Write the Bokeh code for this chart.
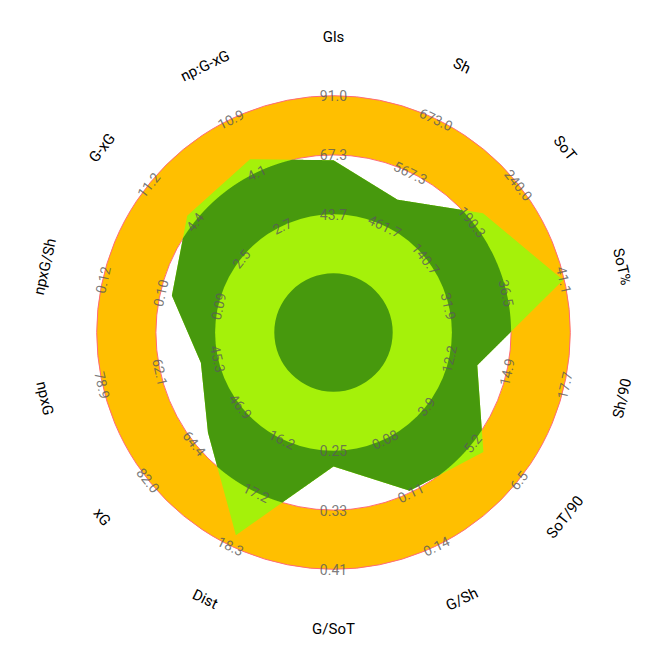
import numpy as np
from bokeh.plotting import figure
from bokeh.models import Range1d, ColumnDataSource
from bokeh.core.properties import value
from bokeh.embed import file_html
from bokeh.resources import INLINE

# ---------------- data ----------------
params = ["Gls", "Sh", "SoT", "SoT%", "Sh/90", "SoT/90", "G/Sh", "G/SoT",
          "Dist", "xG", "npxG", "npxG/Sh", "G-xG", "np:G-xG"]
low = [20.05, 356.05, 91.05, 27.3, 9.45, 2.6, 0.05, 0.17,
       15.15, 29.35, 28.5, 0.075, -9.35, -9.5]
high = [91.0, 673.0, 240.0, 41.1, 17.7, 6.5, 0.14, 0.41,
        18.3, 82.0, 78.9, 0.12, 11.2, 10.9]
values = [65.2, 513.5, 201.8, 41.0, 13.55, 5.51, 0.109, 0.271,
          18.09, 59.4, 50.3, 0.102, 5.45, 5.8]
tick_labels = [
    ["43.7", "67.3", "91.0"],
    ["461.7", "567.3", "673.0"],
    ["140.7", "190.3", "240.0"],
    ["31.9", "36.5", "41.1"],
    ["12.2", "14.9", "17.7"],
    ["3.9", "5.2", "6.5"],
    ["0.08", "0.11", "0.14"],
    ["0.25", "0.33", "0.41"],
    ["16.2", "17.2", "18.3"],
    ["46.9", "64.4", "82.0"],
    ["45.3", "62.1", "78.9"],
    ["0.09", "0.10", "0.12"],
    ["2.5", "4.4", "11.2"],
    ["2.7", "4.1", "10.9"],
]

# ---------------- style ----------------
ORANGE = "#ffbf00"
LIGHT = "#a5f10a"
DARK = "#47990d"
EDGE = "#ff6a78"
TICK_COLOR = "#5a5a5a"

R_CENTER = 1.0
R_OUTER = 4.0
R_LABEL = 5.0
PX = 59.2  # pixels per ring unit

n = len(params)
theta = np.deg2rad(90 - np.arange(n) * 360.0 / n)

p = figure(width=666, height=666, output_backend="svg", toolbar_location=None,
           x_range=Range1d(-333 / PX, 333 / PX), y_range=Range1d(-334 / PX, 332 / PX),
           min_border=0, x_axis_location=None, y_axis_location=None)
p.grid.visible = False
p.outline_line_color = None
p.background_fill_color = "white"

# outer ring
p.annulus(x=[0], y=[0], inner_radius=3.0, outer_radius=4.0,
          fill_color=ORANGE, line_color=None)
for rr in (3.0, 4.0):
    p.circle(x=[0], y=[0], radius=rr, fill_color=None, line_color=EDGE, line_width=1)

# radar polygon
rad = [R_CENTER + (v - lo) / (hi - lo) * (R_OUTER - R_CENTER)
       for v, lo, hi in zip(values, low, high)]
rad = np.array(rad)
vx = rad * np.cos(theta)
vy = rad * np.sin(theta)
p.patch(list(vx), list(vy), fill_color=LIGHT, line_color=None)

# polygon clipped to disc of radius 3 (dark ring inside polygon)
cx, cy = [], []
for i in range(n):
    j = (i + 1) % n
    t = np.linspace(0, 1, 300, endpoint=False)
    ex = vx[i] + (vx[j] - vx[i]) * t
    ey = vy[i] + (vy[j] - vy[i]) * t
    r = np.hypot(ex, ey)
    s = np.minimum(1.0, 3.0 / r)
    cx.extend(list(ex * s))
    cy.extend(list(ey * s))
p.patch(cx, cy, fill_color=DARK, line_color=None)

p.circle(x=[0], y=[0], radius=2.0, fill_color=LIGHT, line_color=None)
p.circle(x=[0], y=[0], radius=R_CENTER, fill_color=DARK, line_color=None)


def rot(th):
    d = np.rad2deg(th)
    d = (d + 180) % 360 - 180
    if d >= 0:
        return np.deg2rad(d - 90)
    return np.deg2rad(d + 90)


# tick labels
tx, ty, tt, ta = [], [], [], []
for i in range(n):
    for k, lab in enumerate(tick_labels[i]):
        rr = 2.0 + k
        tx.append(rr * np.cos(theta[i]))
        ty.append(rr * np.sin(theta[i]))
        tt.append(lab)
        ta.append(rot(theta[i]))
p.text(x="x", y="y", text="t", angle="a",
       source=ColumnDataSource(dict(x=tx, y=ty, t=tt, a=ta)),
       text_font=value("Roboto"), text_font_size="14px", text_color=TICK_COLOR,
       text_alpha=0.8, text_align="center", text_baseline="middle")

# parameter labels
px_ = [R_LABEL * np.cos(t) for t in theta]
py_ = [R_LABEL * np.sin(t) for t in theta]
pa = [rot(t) for t in theta]
p.text(x="x", y="y", text="t", angle="a",
       source=ColumnDataSource(dict(x=px_, y=py_, t=params, a=pa)),
       text_font=value("Roboto"), text_font_size="15px", text_color="#000000",
       text_align="center", text_baseline="middle")

open("out.html", "w").write(file_html(p, INLINE))
